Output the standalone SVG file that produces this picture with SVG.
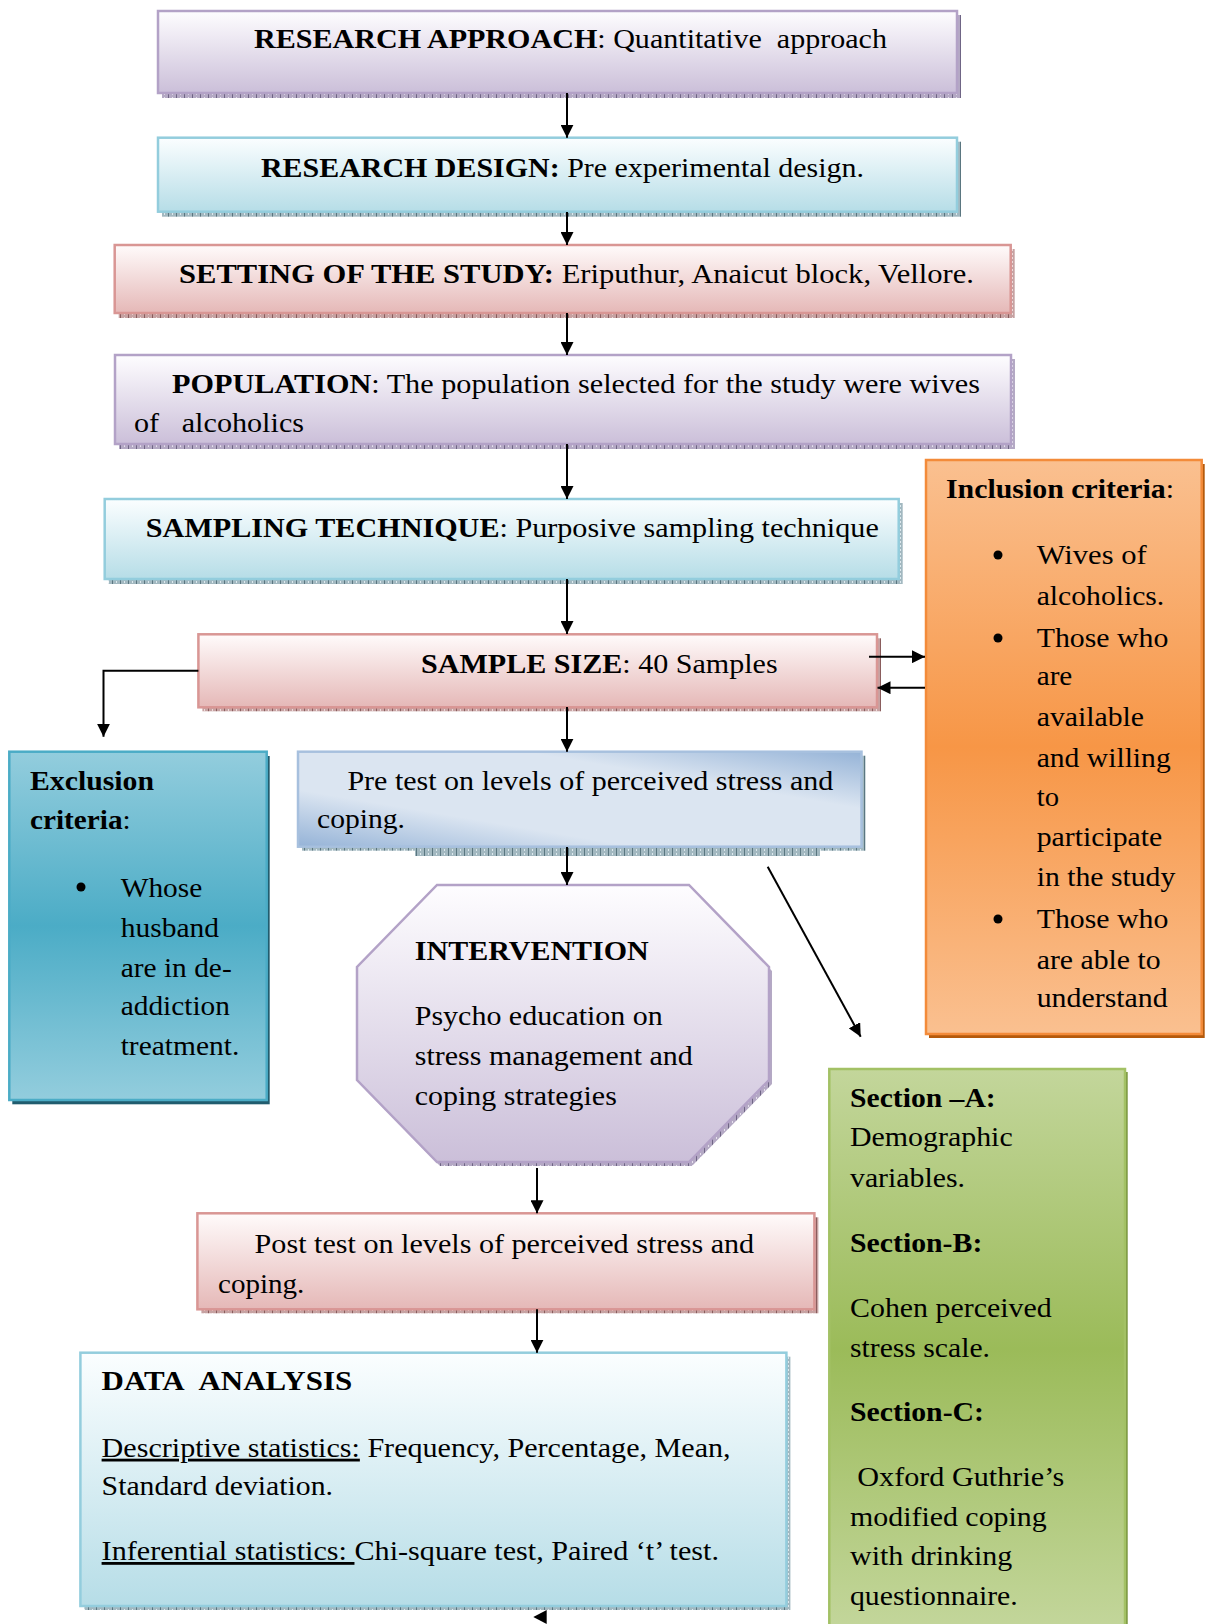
<svg xmlns="http://www.w3.org/2000/svg" width="1205" height="1624" viewBox="0 0 1205 1624">
<style>
.t{font-family:"Liberation Serif","Times New Roman",serif;font-size:28px;fill:#000}
.b{font-weight:bold}
.ln{stroke:#000;stroke-width:2;fill:none}
.pur{fill:url(#gPurple);stroke:#b3a2c7;stroke-width:2.5}
.cya{fill:url(#gCyan);stroke:#93cddd;stroke-width:2.5}
.pnk{fill:url(#gPink);stroke:#d99694;stroke-width:2.5}
.shP{fill:url(#hP)}
.shR{fill:url(#hR)}
.shC{fill:url(#hC)}
</style>
<defs>
<linearGradient id="gPurple" x1="0" y1="0" x2="0" y2="1"><stop offset="0" stop-color="#fefdff"/><stop offset="1" stop-color="#cbbfd9"/></linearGradient>
<linearGradient id="gCyan" x1="0" y1="0" x2="0" y2="1"><stop offset="0" stop-color="#fbfeff"/><stop offset="1" stop-color="#b6dde7"/></linearGradient>
<linearGradient id="gPink" x1="0" y1="0" x2="0" y2="1"><stop offset="0" stop-color="#fffbfb"/><stop offset="1" stop-color="#e5b8b7"/></linearGradient>
<linearGradient id="gBlue" x1="0" y1="1" x2="1" y2="0"><stop offset="0" stop-color="#95b3d7"/><stop offset="0.3" stop-color="#dbe5f1"/><stop offset="0.7" stop-color="#dbe5f1"/><stop offset="1" stop-color="#95b3d7"/></linearGradient>
<linearGradient id="gOrange" x1="0" y1="0" x2="0" y2="1"><stop offset="0" stop-color="#fac090"/><stop offset="0.5" stop-color="#f79646"/><stop offset="1" stop-color="#fac090"/></linearGradient>
<linearGradient id="gTeal" x1="0" y1="0" x2="0" y2="1"><stop offset="0" stop-color="#93cddd"/><stop offset="0.5" stop-color="#4bacc6"/><stop offset="1" stop-color="#93cddd"/></linearGradient>
<linearGradient id="gGreen" x1="0" y1="0" x2="0" y2="1"><stop offset="0" stop-color="#c3d69b"/><stop offset="0.5" stop-color="#9bbb59"/><stop offset="1" stop-color="#c3d69b"/></linearGradient>
<pattern id="hP" width="8" height="4" patternUnits="userSpaceOnUse"><rect width="8" height="4" fill="#b4a9c4"/><rect width="1" height="4" fill="#6f6585"/><rect x="4" y="1" width="1" height="2" fill="#e6e0ee"/></pattern>
<pattern id="hR" width="8" height="4" patternUnits="userSpaceOnUse"><rect width="8" height="4" fill="#c6a2a2"/><rect width="1" height="4" fill="#8a5d5d"/><rect x="4" y="1" width="1" height="2" fill="#eedada"/></pattern>
<pattern id="hC" width="8" height="4" patternUnits="userSpaceOnUse"><rect width="8" height="4" fill="#a2b8c0"/><rect width="1" height="4" fill="#5a7680"/><rect x="4" y="1" width="1" height="2" fill="#dde9ee"/></pattern>
<marker id="arr" viewBox="0 0 13 13" refX="13" refY="6.5" markerWidth="13" markerHeight="13" markerUnits="userSpaceOnUse" orient="auto"><path d="M0,0 L13,6.5 L0,13 z" fill="#000"/></marker>
</defs>

<g id="research-approach">
<rect class="shP" x="162" y="15" width="799" height="83"/>
<rect class="pur" x="158" y="11" width="799" height="82"/>
<text class="t" x="254" y="48.3" textLength="633" lengthAdjust="spacingAndGlyphs"><tspan class="b">RESEARCH APPROACH</tspan>: Quantitative&#160; approach</text>
</g>

<g id="research-design">
<rect class="shC" x="162" y="141.7" width="799" height="75"/>
<rect class="cya" x="158" y="137.7" width="799" height="74"/>
<text class="t" x="261" y="176.7" textLength="603" lengthAdjust="spacingAndGlyphs"><tspan class="b">RESEARCH DESIGN:</tspan> Pre experimental design.</text>
</g>

<g id="setting">
<rect class="shR" x="118.7" y="249" width="896" height="69"/>
<rect class="pnk" x="114.7" y="245" width="896" height="68"/>
<text class="t" x="179" y="283" textLength="795" lengthAdjust="spacingAndGlyphs"><tspan class="b">SETTING OF THE STUDY:</tspan> Eriputhur, Anaicut block, Vellore.</text>
</g>

<g id="population">
<rect class="shP" x="119" y="359" width="896" height="90"/>
<rect class="pur" x="115" y="355" width="896" height="89"/>
<text class="t" x="172" y="392.7" textLength="808" lengthAdjust="spacingAndGlyphs"><tspan class="b">POPULATION</tspan>: The population selected for the study were wives</text>
<text class="t" x="134" y="431.7" textLength="170" lengthAdjust="spacingAndGlyphs">of &#160; alcoholics</text>
</g>

<g id="sampling-technique">
<rect class="shC" x="108.7" y="503" width="794" height="81"/>
<rect class="cya" x="104.7" y="499" width="794" height="80"/>
<text class="t" x="145.8" y="536.7" textLength="733" lengthAdjust="spacingAndGlyphs"><tspan class="b">SAMPLING TECHNIQUE</tspan>: Purposive sampling technique</text>
</g>

<g id="inclusion-criteria">
<rect x="929" y="464" width="275.7" height="574" fill="#b45a0c"/>
<rect x="926" y="460" width="275.7" height="574" fill="url(#gOrange)" stroke="#f38b3a" stroke-width="2.5"/>
<text class="t" x="946" y="497.8" textLength="228" lengthAdjust="spacingAndGlyphs"><tspan class="b">Inclusion criteria</tspan>:</text>
<circle cx="998" cy="555" r="4.5" fill="#000"/>
<circle cx="998" cy="638" r="4.5" fill="#000"/>
<circle cx="998" cy="919" r="4.5" fill="#000"/>
<text class="t" x="1036.7" y="564" textLength="110" lengthAdjust="spacingAndGlyphs">Wives of</text>
<text class="t" x="1036.7" y="605" textLength="127.6" lengthAdjust="spacingAndGlyphs">alcoholics.</text>
<text class="t" x="1036.7" y="647" textLength="131.6" lengthAdjust="spacingAndGlyphs">Those who</text>
<text class="t" x="1036.7" y="685" textLength="35.6" lengthAdjust="spacingAndGlyphs">are</text>
<text class="t" x="1036.7" y="725.5" textLength="107.3" lengthAdjust="spacingAndGlyphs">available</text>
<text class="t" x="1036.7" y="767" textLength="134" lengthAdjust="spacingAndGlyphs">and willing</text>
<text class="t" x="1036.7" y="806" textLength="22.3" lengthAdjust="spacingAndGlyphs">to</text>
<text class="t" x="1036.7" y="846" textLength="125.6" lengthAdjust="spacingAndGlyphs">participate</text>
<text class="t" x="1036.7" y="886" textLength="138.6" lengthAdjust="spacingAndGlyphs">in the study</text>
<text class="t" x="1036.7" y="928" textLength="131.6" lengthAdjust="spacingAndGlyphs">Those who</text>
<text class="t" x="1036.7" y="968.5" textLength="124" lengthAdjust="spacingAndGlyphs">are able to</text>
<text class="t" x="1036.7" y="1007" textLength="131" lengthAdjust="spacingAndGlyphs">understand</text>
</g>

<g id="sample-size">
<rect class="shR" x="202.4" y="638.3" width="678.6" height="73"/>
<rect class="pnk" x="198.4" y="634.3" width="678.6" height="73"/>
<text class="t" x="421" y="673.3" textLength="356.6" lengthAdjust="spacingAndGlyphs"><tspan class="b">SAMPLE SIZE</tspan>: 40 Samples</text>
</g>

<g id="exclusion-criteria">
<rect x="12.3" y="756" width="257.4" height="348.3" fill="#215c6e"/>
<rect x="9.3" y="751.7" width="257.4" height="348.3" fill="url(#gTeal)" stroke="#4bacc6" stroke-width="2.5"/>
<text class="t b" x="30" y="790" textLength="124" lengthAdjust="spacingAndGlyphs">Exclusion</text>
<text class="t" x="30" y="829.3" textLength="100.7" lengthAdjust="spacingAndGlyphs"><tspan class="b">criteria</tspan>:</text>
<circle cx="81" cy="887" r="4.5" fill="#000"/>
<text class="t" x="120.7" y="896.7" textLength="81.6" lengthAdjust="spacingAndGlyphs">Whose</text>
<text class="t" x="120.7" y="936.7" textLength="98.3" lengthAdjust="spacingAndGlyphs">husband</text>
<text class="t" x="120.7" y="976.7" textLength="111" lengthAdjust="spacingAndGlyphs">are in de-</text>
<text class="t" x="120.7" y="1015" textLength="109.3" lengthAdjust="spacingAndGlyphs">addiction</text>
<text class="t" x="120.7" y="1055" textLength="118.6" lengthAdjust="spacingAndGlyphs">treatment.</text>
</g>

<g id="pre-test">
<rect class="shC" x="415" y="846" width="405" height="10"/>
<rect class="shC" x="302" y="755.7" width="563.5" height="95"/>
<rect x="298" y="751.7" width="563.5" height="95" fill="url(#gBlue)" stroke="#a7c0de" stroke-width="2.5"/>
<text class="t" x="347.4" y="790" textLength="486" lengthAdjust="spacingAndGlyphs">Pre test on levels of perceived stress and</text>
<text class="t" x="317" y="828.3" textLength="88" lengthAdjust="spacingAndGlyphs">coping.</text>
</g>

<g id="intervention">
<polygon class="shP" points="440,889 692,889 772,971 772,1084 692,1166 440,1166 360,1084 360,971"/>
<polygon class="pur" points="437,885 689,885 769,967 769,1080 689,1162 437,1162 357,1080 357,967"/>
<text class="t b" x="414.8" y="960" textLength="234" lengthAdjust="spacingAndGlyphs">INTERVENTION</text>
<text class="t" x="414.8" y="1025" textLength="248" lengthAdjust="spacingAndGlyphs">Psycho education on</text>
<text class="t" x="414.8" y="1065" textLength="278" lengthAdjust="spacingAndGlyphs">stress management and</text>
<text class="t" x="414.8" y="1105" textLength="202" lengthAdjust="spacingAndGlyphs">coping strategies</text>
</g>

<g id="tool-sections">
<rect x="832" y="1072" width="295.7" height="560" fill="#77933c"/>
<rect x="829.3" y="1069" width="295.7" height="560" fill="url(#gGreen)" stroke="#a3c165" stroke-width="2.5"/>
<text class="t b" x="850" y="1106.8" textLength="145.7" lengthAdjust="spacingAndGlyphs">Section –A:</text>
<text class="t" x="850" y="1146.3" textLength="162.7" lengthAdjust="spacingAndGlyphs">Demographic</text>
<text class="t" x="850" y="1186.6" textLength="115" lengthAdjust="spacingAndGlyphs">variables.</text>
<text class="t b" x="850" y="1252.4" textLength="132.3" lengthAdjust="spacingAndGlyphs">Section-B:</text>
<text class="t" x="850" y="1317.2" textLength="201.7" lengthAdjust="spacingAndGlyphs">Cohen perceived</text>
<text class="t" x="850" y="1356.8" textLength="140" lengthAdjust="spacingAndGlyphs">stress scale.</text>
<text class="t b" x="850" y="1420.8" textLength="134" lengthAdjust="spacingAndGlyphs">Section-C:</text>
<text class="t" x="857.3" y="1486.3" textLength="207" lengthAdjust="spacingAndGlyphs">Oxford Guthrie’s</text>
<text class="t" x="850" y="1525.8" textLength="196.7" lengthAdjust="spacingAndGlyphs">modified coping</text>
<text class="t" x="850" y="1565.4" textLength="162.3" lengthAdjust="spacingAndGlyphs">with drinking</text>
<text class="t" x="850" y="1605" textLength="167.7" lengthAdjust="spacingAndGlyphs">questionnaire.</text>
</g>

<g id="post-test">
<rect class="shR" x="201.4" y="1217.3" width="617" height="96"/>
<rect class="pnk" x="197.4" y="1213.3" width="617" height="96"/>
<text class="t" x="254.6" y="1253.3" textLength="499.6" lengthAdjust="spacingAndGlyphs">Post test on levels of perceived stress and</text>
<text class="t" x="218" y="1292.7" textLength="86.4" lengthAdjust="spacingAndGlyphs">coping.</text>
</g>

<g id="data-analysis">
<rect class="shC" x="84.4" y="1356.7" width="706" height="253.3"/>
<rect class="cya" x="80.4" y="1352.7" width="706" height="253.3"/>
<text class="t b" x="101.6" y="1390" textLength="250.6" lengthAdjust="spacingAndGlyphs">DATA&#160; ANALYSIS</text>
<text class="t" x="101.6" y="1456.7" textLength="629" lengthAdjust="spacingAndGlyphs"><tspan text-decoration="underline">Descriptive statistics:</tspan> Frequency, Percentage, Mean,</text>
<text class="t" x="101.6" y="1495" textLength="231.4" lengthAdjust="spacingAndGlyphs">Standard deviation.</text>
<text class="t" x="101.6" y="1560" textLength="617.4" lengthAdjust="spacingAndGlyphs"><tspan text-decoration="underline">Inferential statistics: </tspan>Chi-square test, Paired ‘t’ test.</text>
</g>

<g id="connectors">
<line class="ln" x1="567" y1="93" x2="567" y2="137.7" marker-end="url(#arr)"/>
<line class="ln" x1="567" y1="212" x2="567" y2="245" marker-end="url(#arr)"/>
<line class="ln" x1="567" y1="313" x2="567" y2="355" marker-end="url(#arr)"/>
<line class="ln" x1="567" y1="444" x2="567" y2="499" marker-end="url(#arr)"/>
<line class="ln" x1="567" y1="579" x2="567" y2="634" marker-end="url(#arr)"/>
<line class="ln" x1="567" y1="707" x2="567" y2="751.7" marker-end="url(#arr)"/>
<line class="ln" x1="567" y1="847" x2="567" y2="885" marker-end="url(#arr)"/>
<polyline class="ln" points="198.4,670.7 103.5,670.7 103.5,736.7" marker-end="url(#arr)"/>
<line class="ln" x1="869" y1="656.7" x2="925" y2="656.7" marker-end="url(#arr)"/>
<line class="ln" x1="925" y1="687.7" x2="877.5" y2="687.7" marker-end="url(#arr)"/>
<line class="ln" x1="767.7" y1="866.7" x2="860.7" y2="1036.7" stroke-width="1.5" marker-end="url(#arr)"/>
<line class="ln" x1="537" y1="1168" x2="537" y2="1213.3" marker-end="url(#arr)"/>
<line class="ln" x1="537" y1="1309.3" x2="537" y2="1352.7" marker-end="url(#arr)"/>
<polygon points="533.3,1617 546.7,1610 546.7,1624" fill="#000"/>
</g>
</svg>
